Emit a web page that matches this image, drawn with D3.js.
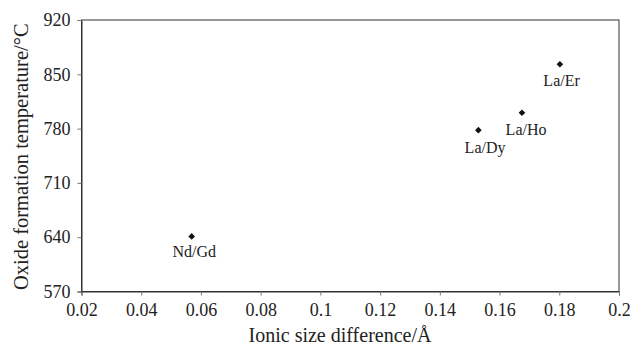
<!DOCTYPE html>
<html><head><meta charset="utf-8">
<script src="https://cdn.jsdelivr.net/npm/d3@7"></script>
<style>body{margin:0;background:#fff}svg{display:block}</style>
</head><body><svg id="c" width="632" height="347"></svg>
<script>
const labels = ["Nd/Gd","La/Dy","La/Ho","La/Er"];
const xValues = [0.0569, 0.1529, 0.1675, 0.1802];
const yValues = [641, 778, 800.5, 863];
const xTicks = [0.02,0.04,0.06,0.08,0.1,0.12,0.14,0.16,0.18,0.2];
const yTicks = [570,640,710,780,850,920];
const xTitle = "Ionic size difference/Å";
const yTitle = "Oxide formation temperature/°C";

const FONT = "'Liberation Serif', 'Times New Roman', serif";
const svg = d3.select("#c");
const L=81.5, R=619, T=20, B=291.5;
const x = d3.scaleLinear().domain([0.02,0.2]).range([L,R]);
const y = d3.scaleLinear().domain([570,920]).range([B,T]);

svg.append("rect").attr("x",L).attr("y",T).attr("width",R-L).attr("height",B-T)
  .attr("fill","none").attr("stroke","#333").attr("stroke-width",1);

const xa = svg.append("g").attr("transform",`translate(0,${B})`)
  .call(d3.axisBottom(x).tickValues(xTicks).tickFormat(d=>String(d)).tickSize(4).tickPadding(7.5));
const ya = svg.append("g").attr("transform",`translate(${L},0)`)
  .call(d3.axisLeft(y).tickValues(yTicks).tickFormat(d=>String(d)).tickSize(4).tickPadding(7));
[xa,ya].forEach(g=>{
  g.attr("font-family",FONT).attr("font-size",18);
  g.select(".domain").attr("stroke","#333");
  g.selectAll(".tick line").attr("stroke","#777");
  g.selectAll(".tick text").attr("fill","#222");
});

svg.append("text").attr("x",340).attr("y",342).attr("text-anchor","middle")
  .attr("font-family",FONT).attr("font-size",20).attr("fill","#222").text(xTitle);
svg.append("text").attr("transform",`translate(27.5,${(T+B)/2+1}) rotate(-90)`).attr("text-anchor","middle")
  .attr("font-family",FONT).attr("font-size",20.5).attr("fill","#222").text(yTitle);

const data = labels.map((l,i)=>({l,x:xValues[i],y:yValues[i]}));
svg.selectAll("path.pt").data(data).enter().append("path").attr("class","pt")
  .attr("d",d3.symbol(d3.symbolSquare,22)).attr("fill","#111")
  .attr("transform",d=>`translate(${x(d.x)},${y(d.y)}) rotate(45)`);
const off = {"Nd/Gd":[2.5,21],"La/Dy":[6.7,23.3],"La/Ho":[4.1,22.3],"La/Er":[1.7,22]};
svg.selectAll("text.lab").data(data).enter().append("text").attr("class","lab")
  .attr("x",d=>x(d.x)+off[d.l][0]).attr("y",d=>y(d.y)+off[d.l][1])
  .attr("text-anchor","middle").attr("font-family",FONT).attr("font-size",16).attr("fill","#222").text(d=>d.l);
</script></body></html>
